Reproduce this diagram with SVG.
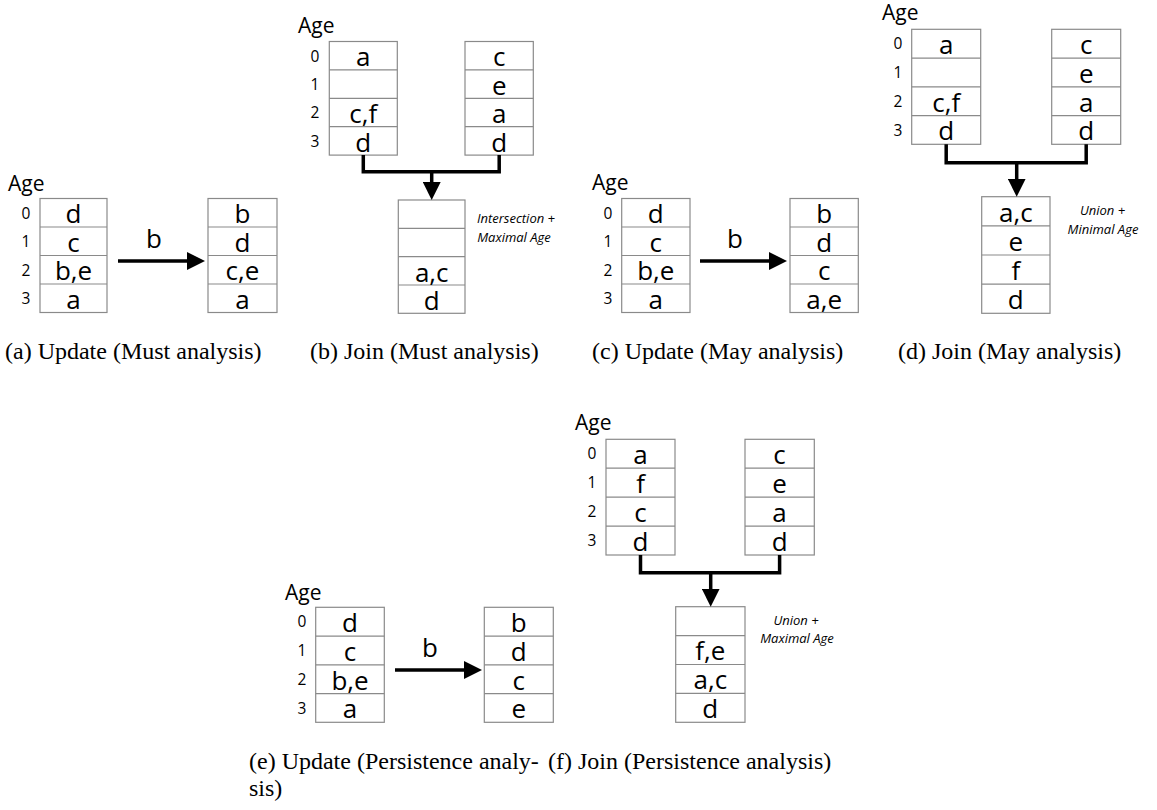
<svg xmlns="http://www.w3.org/2000/svg" width="1157" height="810" viewBox="0 0 1157 810">
<defs>
<marker id="ah" markerUnits="userSpaceOnUse" markerWidth="18" markerHeight="18" refX="8" refY="9" orient="auto"><path d="M0,0 L18,9 L0,18 z" fill="#000"/></marker>
<style>
.box{fill:#fff;stroke:#8a8a8a;stroke-width:1.2}
.sep{stroke:#8a8a8a;stroke-width:1.2}
.cell{font-family:"Open Sans","Liberation Sans",sans-serif;font-size:26px;text-anchor:middle;fill:#000}
.lbl{font-family:"Open Sans","Liberation Sans",sans-serif;font-size:15.5px;text-anchor:middle;fill:#000}
.age{font-family:"Open Sans","Liberation Sans",sans-serif;font-size:21px;fill:#000}
.note{font-family:"Open Sans","Liberation Sans",sans-serif;font-size:13px;font-style:italic;text-anchor:middle;fill:#000}
.cap{font-family:"Liberation Serif","Times New Roman",serif;font-size:24px;fill:#000}
.conn{fill:none;stroke:#000;stroke-width:3.5;stroke-linejoin:miter}
</style>
</defs>

<!-- Panel (a) -->
<g id="a-before">
<text class="age" x="8" y="191">Age</text>
<text class="lbl" x="26" y="218.5">0</text><text class="lbl" x="26" y="247">1</text><text class="lbl" x="26" y="275.5">2</text><text class="lbl" x="26" y="304">3</text>
<rect class="box" x="40" y="198.5" width="67" height="114"/>
<line class="sep" x1="40" y1="227" x2="107" y2="227"/><line class="sep" x1="40" y1="255.5" x2="107" y2="255.5"/><line class="sep" x1="40" y1="284" x2="107" y2="284"/>
<text class="cell" x="73.5" y="223">d</text><text class="cell" x="73.5" y="251.5">c</text><text class="cell" x="73.5" y="280">b,e</text><text class="cell" x="73.5" y="308.5">a</text>
</g>
<g id="a-after">
<rect class="box" x="208" y="198.5" width="69" height="114"/>
<line class="sep" x1="208" y1="227" x2="277" y2="227"/><line class="sep" x1="208" y1="255.5" x2="277" y2="255.5"/><line class="sep" x1="208" y1="284" x2="277" y2="284"/>
<text class="cell" x="242.5" y="223">b</text><text class="cell" x="242.5" y="251.5">d</text><text class="cell" x="242.5" y="280">c,e</text><text class="cell" x="242.5" y="308.5">a</text>
</g>

<!-- Panel (b) -->
<g id="b-left">
<text class="age" x="298" y="33">Age</text>
<text class="lbl" x="315" y="61.5">0</text><text class="lbl" x="315" y="89.9">1</text><text class="lbl" x="315" y="118.3">2</text><text class="lbl" x="315" y="146.7">3</text>
<rect class="box" x="329.3" y="41.5" width="68" height="113.6"/>
<line class="sep" x1="329.3" y1="69.9" x2="397.3" y2="69.9"/><line class="sep" x1="329.3" y1="98.3" x2="397.3" y2="98.3"/><line class="sep" x1="329.3" y1="126.7" x2="397.3" y2="126.7"/>
<text class="cell" x="363.3" y="66.3">a</text><text class="cell" x="363.3" y="123.1">c,f</text><text class="cell" x="363.3" y="151.5">d</text>
</g>
<g id="b-right">
<rect class="box" x="465" y="41.5" width="68.3" height="113.6"/>
<line class="sep" x1="465" y1="69.9" x2="533.3" y2="69.9"/><line class="sep" x1="465" y1="98.3" x2="533.3" y2="98.3"/><line class="sep" x1="465" y1="126.7" x2="533.3" y2="126.7"/>
<text class="cell" x="499.2" y="66.3">c</text><text class="cell" x="499.2" y="94.7">e</text><text class="cell" x="499.2" y="123.1">a</text><text class="cell" x="499.2" y="151.5">d</text>
</g>
<g id="b-result">
<rect class="box" x="398.3" y="200" width="66.7" height="113.3"/>
<line class="sep" x1="398.3" y1="228.3" x2="465" y2="228.3"/><line class="sep" x1="398.3" y1="256.7" x2="465" y2="256.7"/><line class="sep" x1="398.3" y1="285" x2="465" y2="285"/>
<text class="cell" x="431.7" y="281.5">a,c</text><text class="cell" x="431.7" y="309.8">d</text>
<text class="note" x="516" y="223">Intersection +</text><text class="note" x="514" y="242">Maximal Age</text>
</g>

<!-- Panel (c) -->
<g id="c-before">
<text class="age" x="592" y="190">Age</text>
<text class="lbl" x="608" y="218.5">0</text><text class="lbl" x="608" y="247">1</text><text class="lbl" x="608" y="275.5">2</text><text class="lbl" x="608" y="304">3</text>
<rect class="box" x="621.7" y="198.5" width="68.3" height="114"/>
<line class="sep" x1="621.7" y1="227" x2="690" y2="227"/><line class="sep" x1="621.7" y1="255.5" x2="690" y2="255.5"/><line class="sep" x1="621.7" y1="284" x2="690" y2="284"/>
<text class="cell" x="655.8" y="223">d</text><text class="cell" x="655.8" y="251.5">c</text><text class="cell" x="655.8" y="280">b,e</text><text class="cell" x="655.8" y="308.5">a</text>
</g>
<g id="c-after">
<rect class="box" x="790" y="198.5" width="68.3" height="114"/>
<line class="sep" x1="790" y1="227" x2="858.3" y2="227"/><line class="sep" x1="790" y1="255.5" x2="858.3" y2="255.5"/><line class="sep" x1="790" y1="284" x2="858.3" y2="284"/>
<text class="cell" x="824.2" y="223">b</text><text class="cell" x="824.2" y="251.5">d</text><text class="cell" x="824.2" y="280">c</text><text class="cell" x="824.2" y="308.5">a,e</text>
</g>

<!-- Panel (d) -->
<g id="d-left">
<text class="age" x="882" y="20">Age</text>
<text class="lbl" x="898" y="49.3">0</text><text class="lbl" x="898" y="78.05">1</text><text class="lbl" x="898" y="106.8">2</text><text class="lbl" x="898" y="135.55">3</text>
<rect class="box" x="911.7" y="29.3" width="69" height="115"/>
<line class="sep" x1="911.7" y1="58.05" x2="980.7" y2="58.05"/><line class="sep" x1="911.7" y1="86.8" x2="980.7" y2="86.8"/><line class="sep" x1="911.7" y1="115.55" x2="980.7" y2="115.55"/>
<text class="cell" x="946.2" y="54.1">a</text><text class="cell" x="946.2" y="111.6">c,f</text><text class="cell" x="946.2" y="140.35">d</text>
</g>
<g id="d-right">
<rect class="box" x="1051.7" y="29.3" width="69" height="115"/>
<line class="sep" x1="1051.7" y1="58.05" x2="1120.7" y2="58.05"/><line class="sep" x1="1051.7" y1="86.8" x2="1120.7" y2="86.8"/><line class="sep" x1="1051.7" y1="115.55" x2="1120.7" y2="115.55"/>
<text class="cell" x="1086.2" y="54.1">c</text><text class="cell" x="1086.2" y="82.85">e</text><text class="cell" x="1086.2" y="111.6">a</text><text class="cell" x="1086.2" y="140.35">d</text>
</g>
<g id="d-result">
<rect class="box" x="981.7" y="196.7" width="68.3" height="116.6"/>
<line class="sep" x1="981.7" y1="225.85" x2="1050" y2="225.85"/><line class="sep" x1="981.7" y1="255" x2="1050" y2="255"/><line class="sep" x1="981.7" y1="284.15" x2="1050" y2="284.15"/>
<text class="cell" x="1015.8" y="221.5">a,c</text><text class="cell" x="1015.8" y="250.65">e</text><text class="cell" x="1015.8" y="279.8">f</text><text class="cell" x="1015.8" y="308.95">d</text>
<text class="note" x="1102.5" y="215">Union +</text><text class="note" x="1103" y="233.5">Minimal Age</text>
</g>

<!-- Panel (e) -->
<g id="e-before">
<text class="age" x="285" y="600">Age</text>
<text class="lbl" x="302" y="627.3">0</text><text class="lbl" x="302" y="656.05">1</text><text class="lbl" x="302" y="684.8">2</text><text class="lbl" x="302" y="713.55">3</text>
<rect class="box" x="315.7" y="607.3" width="68.6" height="115"/>
<line class="sep" x1="315.7" y1="636.05" x2="384.3" y2="636.05"/><line class="sep" x1="315.7" y1="664.8" x2="384.3" y2="664.8"/><line class="sep" x1="315.7" y1="693.55" x2="384.3" y2="693.55"/>
<text class="cell" x="350" y="632.1">d</text><text class="cell" x="350" y="660.85">c</text><text class="cell" x="350" y="689.6">b,e</text><text class="cell" x="350" y="718.35">a</text>
</g>
<g id="e-after">
<rect class="box" x="484.3" y="607.3" width="69" height="115"/>
<line class="sep" x1="484.3" y1="636.05" x2="553.3" y2="636.05"/><line class="sep" x1="484.3" y1="664.8" x2="553.3" y2="664.8"/><line class="sep" x1="484.3" y1="693.55" x2="553.3" y2="693.55"/>
<text class="cell" x="518.8" y="632.1">b</text><text class="cell" x="518.8" y="660.85">d</text><text class="cell" x="518.8" y="689.6">c</text><text class="cell" x="518.8" y="718.35">e</text>
</g>

<!-- Panel (f) -->
<g id="f-left">
<text class="age" x="575" y="430">Age</text>
<text class="lbl" x="592" y="459.3">0</text><text class="lbl" x="592" y="488.2">1</text><text class="lbl" x="592" y="517.15">2</text><text class="lbl" x="592" y="546.1">3</text>
<rect class="box" x="606" y="439.3" width="69" height="115.7"/>
<line class="sep" x1="606" y1="468.2" x2="675" y2="468.2"/><line class="sep" x1="606" y1="497.15" x2="675" y2="497.15"/><line class="sep" x1="606" y1="526.1" x2="675" y2="526.1"/>
<text class="cell" x="640.5" y="464.1">a</text><text class="cell" x="640.5" y="493">f</text><text class="cell" x="640.5" y="521.95">c</text><text class="cell" x="640.5" y="550.9">d</text>
</g>
<g id="f-right">
<rect class="box" x="745" y="439.3" width="69.3" height="115.7"/>
<line class="sep" x1="745" y1="468.2" x2="814.3" y2="468.2"/><line class="sep" x1="745" y1="497.15" x2="814.3" y2="497.15"/><line class="sep" x1="745" y1="526.1" x2="814.3" y2="526.1"/>
<text class="cell" x="779.6" y="464.1">c</text><text class="cell" x="779.6" y="493">e</text><text class="cell" x="779.6" y="521.95">a</text><text class="cell" x="779.6" y="550.9">d</text>
</g>
<g id="f-result">
<rect class="box" x="675.7" y="606.7" width="69.3" height="115.6"/>
<line class="sep" x1="675.7" y1="635.6" x2="745" y2="635.6"/><line class="sep" x1="675.7" y1="664.5" x2="745" y2="664.5"/><line class="sep" x1="675.7" y1="693.4" x2="745" y2="693.4"/>
<text class="cell" x="710.3" y="660.4">f,e</text><text class="cell" x="710.3" y="689.3">a,c</text><text class="cell" x="710.3" y="718.2">d</text>
<text class="note" x="796" y="625">Union +</text><text class="note" x="797" y="643">Maximal Age</text>
</g>

<!-- Connectors -->
<g id="connectors">
<path class="conn" d="M118,261 H195" marker-end="url(#ah)"/>
<text class="cell" x="154" y="248">b</text>
<path class="conn" d="M700,261 H777" marker-end="url(#ah)"/>
<text class="cell" x="735" y="248">b</text>
<path class="conn" d="M395,670 H472" marker-end="url(#ah)"/>
<text class="cell" x="430" y="657">b</text>
<path class="conn" d="M363.3,155.1 V171.7 H499.2 V155.1"/>
<path class="conn" d="M431.7,171.7 V190" marker-end="url(#ah)"/>
<path class="conn" d="M946.2,144.3 V162.7 H1086.2 V144.3"/>
<path class="conn" d="M1016.7,162.7 V186.7" marker-end="url(#ah)"/>
<path class="conn" d="M640.5,555 V572.7 H779.6 V555"/>
<path class="conn" d="M710.7,572.7 V596.7" marker-end="url(#ah)"/>
</g>

<!-- Captions -->
<g id="captions">
<text class="cap" x="5" y="359">(a) Update (Must analysis)</text>
<text class="cap" x="310" y="359">(b) Join (Must analysis)</text>
<text class="cap" x="592" y="359">(c) Update (May analysis)</text>
<text class="cap" x="898" y="359">(d) Join (May analysis)</text>
<text class="cap" x="249" y="769">(e) Update (Persistence analy-</text>
<text class="cap" x="249" y="796">sis)</text>
<text class="cap" x="548" y="769">(f) Join (Persistence analysis)</text>
</g>
</svg>
